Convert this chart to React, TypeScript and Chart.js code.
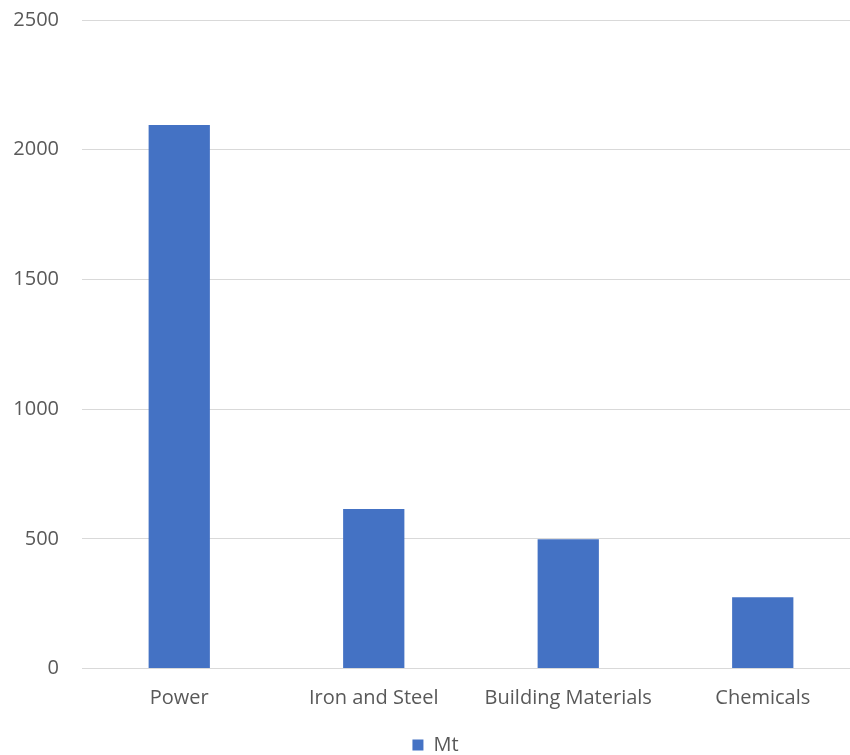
import React, { useEffect, useRef } from "react";
import { Chart, registerables } from "chart.js";

Chart.register(...registerables);

const categories = ["Power", "Iron and Steel", "Building Materials", "Chemicals"];
const seriesName = "Mt";
const values = [2095, 615, 498, 275];
const yTicks = [0, 500, 1000, 1500, 2000, 2500];

export default function App() {
  const ref = useRef<HTMLCanvasElement | null>(null);
  useEffect(() => {
    if (!ref.current) return;
    const font = { family: "'Open Sans', sans-serif", size: 20 };
    const chart = new Chart(ref.current, {
      type: "bar",
      data: {
        labels: categories,
        datasets: [
          {
            label: seriesName,
            data: values,
            backgroundColor: "#4472C4",
            borderWidth: 0,
            categoryPercentage: 1,
            barPercentage: 0.315,
          },
        ],
      },
      options: {
        animation: false,
        responsive: true,
        maintainAspectRatio: false,
        layout: { padding: { left: 11, right: 0, top: 20, bottom: -10 } },
        plugins: {
          tooltip: { enabled: false },
          legend: {
            position: "bottom",
            labels: {
              font: { family: "'Open Sans', sans-serif", size: 20 },
              color: "#595959",
              boxWidth: 11,
              boxHeight: 11,
              padding: 6.5,
            },
          },
        },
        scales: {
          x: {
            grid: { display: false, drawTicks: false },
            border: { display: true, color: "#d9d9d9", width: 1 },
            ticks: { font, color: "#595959", padding: 18, maxRotation: 0 },
          },
          y: {
            min: 0,
            max: 2500,
            afterBuildTicks: (axis: any) => {
              axis.ticks = yTicks.map((v) => ({ value: v }));
            },
            afterFit: (axis: any) => {
              axis.width = 71;
              axis.paddingTop = 0;
              axis.paddingBottom = 0;
            },
            grid: { color: "#d9d9d9", drawTicks: false, lineWidth: 1 },
            border: { display: false },
            ticks: {
              font,
              color: "#595959",
              padding: 23,
              callback: (v: any) => String(v),
            },
          },
        },
      },
    });
    return () => chart.destroy();
  }, []);
  return (
    <div style={{ position: "fixed", left: 0, top: 0, width: 850, height: 755, overflow: "hidden", background: "#fff" }}>
      <div style={{ position: "relative", width: 860, height: 755 }}>
        <canvas ref={ref} />
      </div>
    </div>
  );
}
